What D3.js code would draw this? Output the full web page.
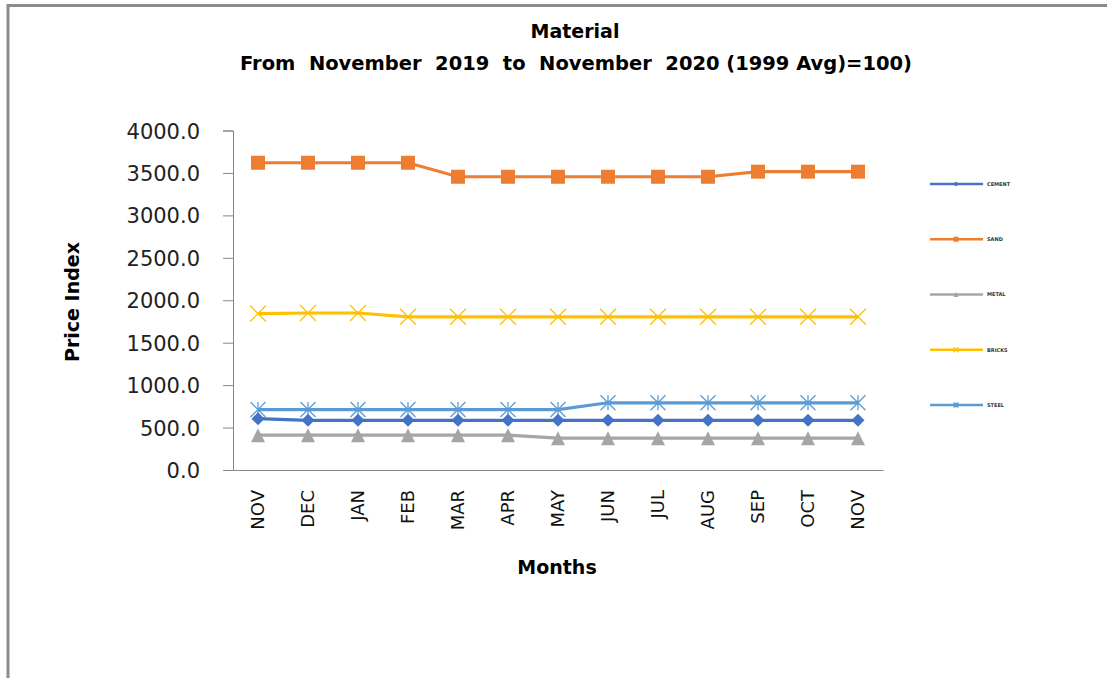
<!doctype html>
<html>
<head>
<meta charset="utf-8">
<title>Material price index</title>
<script src="https://cdnjs.cloudflare.com/ajax/libs/d3/7.8.5/d3.min.js"></script>
<style>
  body { margin: 0; background: #fff; }
  svg text { font-family: "DejaVu Sans", sans-serif; }
</style>
</head>
<body>
<div id="chartContainer"></div>
<script>
// months on the x axis (Nov 2019 .. Nov 2020)
var months = ["NOV", "DEC", "JAN", "FEB", "MAR", "APR", "MAY", "JUN", "JUL", "AUG", "SEP", "OCT", "NOV"];
var yTicks = [0, 500, 1000, 1500, 2000, 2500, 3000, 3500, 4000];

var seriesNames = ["CEMENT", "SAND", "METAL", "BRICKS", "STEEL"];
var cement = [605, 585, 585, 585, 585, 585, 585, 585, 585, 585, 585, 585, 585];
var sand   = [3620, 3620, 3620, 3620, 3455, 3455, 3455, 3455, 3455, 3455, 3515, 3515, 3515];
var metal  = [410, 410, 410, 410, 410, 410, 375, 375, 375, 375, 375, 375, 375];
var bricks = [1843, 1850, 1850, 1805, 1805, 1805, 1805, 1805, 1805, 1805, 1805, 1805, 1805];
var steel  = [712, 712, 712, 712, 712, 712, 712, 792, 792, 792, 792, 792, 792];

function draw() {
  var width = 1107, height = 678;
  var svg = d3.select("#chartContainer").append("svg")
      .attr("width", width).attr("height", height);

  // frame (only top and left edges show in the picture)
  svg.append("path")
      .attr("d", "M8,690V5.5H1120")
      .attr("fill", "none")
      .attr("stroke", "#8c8c8c")
      .attr("stroke-width", 3);

  var x = d3.scaleBand().domain(d3.range(months.length)).range([233, 883]);
  var y = d3.scaleLinear().domain([0, 4000]).range([470, 130.5]);

  var colors = ["#4472C4", "#ED7D31", "#A5A5A5", "#FFC000", "#5B9BD5"];
  var shapes = ["diamond", "square", "triangle", "cross", "star"];
  var data = [cement, sand, metal, bricks, steel];

  // axes
  var yAxis = svg.append("g")
      .attr("transform", "translate(233,0)")
      .call(d3.axisLeft(y).tickValues(yTicks).tickFormat(d3.format(".1f")).tickSizeOuter(0).tickSize(10));
  yAxis.select(".domain").attr("stroke", "#868686");
  yAxis.selectAll(".tick line").attr("stroke", "#868686");
  yAxis.selectAll("text")
      .attr("x", -33)
      .attr("dy", "0.36em")
      .style("font-size", "21px")
      .attr("fill", "#222");

  var xAxis = svg.append("g")
      .attr("transform", "translate(0,470)")
      .call(d3.axisBottom(x).tickFormat(function (i) { return months[i]; }).tickSize(0).tickSizeOuter(0));
  xAxis.select(".domain").attr("stroke", "#868686");
  xAxis.selectAll("text")
      .attr("transform", "rotate(-90)")
      .attr("text-anchor", "end")
      .attr("x", -20)
      .attr("y", 0)
      .attr("dy", "0.36em")
      .style("font-size", "18px")
      .attr("fill", "#111");

  // titles
  svg.append("text").attr("x", 575).attr("y", 38)
      .attr("text-anchor", "middle").style("font-size", "19px").style("font-weight", "bold")
      .text("Material");
  svg.append("text").attr("x", 576).attr("y", 70)
      .attr("text-anchor", "middle").style("font-size", "19px").style("font-weight", "bold")
      .attr("textLength", 672).attr("lengthAdjust", "spacingAndGlyphs")
      .attr("xml:space", "preserve")
      .text("From  November  2019  to  November  2020 (1999 Avg)=100)");
  svg.append("text")
      .attr("transform", "translate(79,302) rotate(-90)")
      .attr("text-anchor", "middle").style("font-size", "19px").style("font-weight", "bold")
      .text("Price Index");
  svg.append("text").attr("x", 557).attr("y", 574)
      .attr("text-anchor", "middle").style("font-size", "19px").style("font-weight", "bold")
      .text("Months");

  var line = d3.line()
      .x(function (d, i) { return x(i) + x.bandwidth() / 2; })
      .y(function (d) { return y(d); });

  function marker(g, shape, color, size) {
    var s = size;
    if (shape === "square") {
      g.append("rect").attr("x", -s / 2).attr("y", -s / 2).attr("width", s).attr("height", s).attr("fill", color);
    } else if (shape === "diamond") {
      g.append("path").attr("d", "M0," + (-s / 2) + "L" + s / 2 + ",0L0," + s / 2 + "L" + (-s / 2) + ",0Z").attr("fill", color);
    } else if (shape === "triangle") {
      g.append("path").attr("d", "M0," + (-s / 2) + "L" + s / 2 + "," + s / 2 + "L" + (-s / 2) + "," + s / 2 + "Z").attr("fill", color);
    } else if (shape === "cross") {
      var h = s / 2;
      g.append("path").attr("d", "M" + (-h) + "," + (-h) + "L" + h + "," + h + "M" + h + "," + (-h) + "L" + (-h) + "," + h)
        .attr("stroke", color).attr("stroke-width", 1.3).attr("fill", "none");
    } else if (shape === "star") {
      var k = s / 2;
      g.append("path").attr("d", "M" + (-k) + "," + (-k) + "L" + k + "," + k + "M" + k + "," + (-k) + "L" + (-k) + "," + k + "M0," + (-k) + "V" + k)
        .attr("stroke", color).attr("stroke-width", 1.3).attr("fill", "none");
    }
  }

  var sizes = [13, 14, 14, 16, 15];
  var order = [3, 1, 4, 2, 0];
  order.forEach(function (k) {
    var g = svg.append("g");
    g.append("path")
        .datum(data[k])
        .attr("d", line)
        .attr("fill", "none")
        .attr("stroke", colors[k])
        .attr("stroke-width", 3.2);
    g.selectAll(".pt").data(data[k]).enter().append("g")
        .attr("transform", function (d, i) { return "translate(" + (x(i) + x.bandwidth() / 2) + "," + y(d) + ")"; })
        .each(function () { marker(d3.select(this), shapes[k], colors[k], sizes[k]); });
  });

  // legend
  var legY = d3.scalePoint().domain(seriesNames).range([184, 405]);
  seriesNames.forEach(function (name, k) {
    var lg = svg.append("g").attr("transform", "translate(930," + legY(name) + ")");
    lg.append("line").attr("x1", 0).attr("x2", 53).attr("stroke", colors[k]).attr("stroke-width", 2.5);
    var m = lg.append("g").attr("transform", "translate(26,0)");
    marker(m, shapes[k], colors[k], 5);
    lg.append("text").attr("x", 57).attr("y", 0).attr("dy", "0.35em")
        .style("font-size", "5px").style("font-weight", "bold").attr("fill", "#333")
        .text(name);
  });
}

draw();
</script>
</body>
</html>
